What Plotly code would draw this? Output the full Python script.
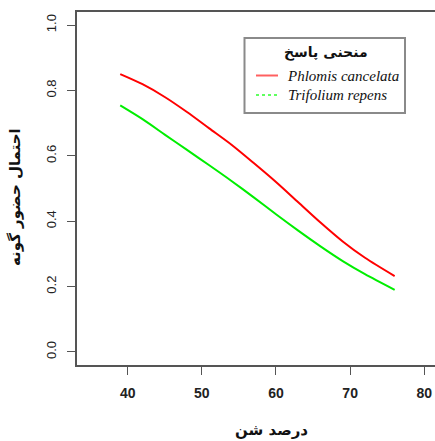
import plotly.graph_objects as go

# ---- data ----
sand = [39, 42, 45, 48, 51, 54, 57, 60, 63, 66, 69, 72, 76]
phlomis = [0.850, 0.819, 0.780, 0.734, 0.684, 0.634, 0.578, 0.520, 0.458, 0.396, 0.338, 0.288, 0.232]
trifolium = [0.754, 0.712, 0.665, 0.618, 0.571, 0.523, 0.473, 0.421, 0.371, 0.323, 0.278, 0.238, 0.190]
x_ticks = [40, 50, 60, 70, 80]
y_ticks = [0.0, 0.2, 0.4, 0.6, 0.8, 1.0]
y_tick_labels = ["0.0", "0.2", "0.4", "0.6", "0.8", "1.0"]
legend_title = "منحنی پاسخ"
series_names = ["Phlomis cancelata", "Trifolium repens"]
x_title = "درصد شن"
y_title = "احتمال حضور گونه"

W, H = 435, 441
L, R, T, B = 77, 0, 12, 76
PW, PH = W - L - R, H - T - B


def px(xp):
    return (xp - L) / PW


def py(yp):
    return (H - B - yp) / PH


fig = go.Figure()
fig.add_trace(go.Scatter(x=sand, y=phlomis, mode="lines", name=series_names[0],
                         line=dict(color="#ff0000", width=2, shape="spline", smoothing=0.8),
                         showlegend=False))
fig.add_trace(go.Scatter(x=sand, y=trifolium, mode="lines", name=series_names[1],
                         line=dict(color="#00ee00", width=2, shape="spline", smoothing=0.8),
                         showlegend=False))

axis_col = "#555555"
fig.update_xaxes(range=[33.17, 81.44], tickvals=x_ticks, ticks="outside", ticklen=8,
                 tickwidth=1.2, tickcolor=axis_col, showline=True, linecolor=axis_col,
                 linewidth=1.5, mirror=True, showgrid=False, zeroline=False,
                 ticklabelstandoff=6,
                 tickfont=dict(family="Liberation Sans", size=14, color="#222222", weight="bold"))
fig.update_yaxes(range=[-0.04, 1.04], tickvals=y_ticks, ticktext=y_tick_labels,
                 ticks="outside", ticklen=8, tickwidth=1.2, tickcolor=axis_col,
                 showline=True, linecolor=axis_col, linewidth=1.5, showgrid=False,
                 zeroline=False, tickangle=-90, ticklabelstandoff=6,
                 tickfont=dict(family="Liberation Sans", size=13, color="#222222"))

serif = "Liberation Serif, DejaVu Serif, serif"
annotations = [
    dict(text=f"<b>{x_title}</b>", x=px(271), y=py(430), xref="paper", yref="paper",
         showarrow=False, xanchor="center", yanchor="middle",
         font=dict(family="DejaVu Sans", size=15, color="#111111")),
    dict(text=f"<b>{y_title}</b>", x=px(15), y=py(197), xref="paper", yref="paper",
         showarrow=False, xanchor="center", yanchor="middle", textangle=-90,
         font=dict(family="DejaVu Sans", size=15, color="#111111")),
    dict(text=f"<b>{legend_title}</b>", x=px(326), y=py(52), xref="paper", yref="paper",
         showarrow=False, xanchor="center", yanchor="middle",
         font=dict(family="DejaVu Sans", size=14, color="#111111")),
    dict(text=series_names[0], x=px(285), y=py(75.5), xref="paper", yref="paper",
         showarrow=False, xanchor="left", yanchor="middle",
         font=dict(family=serif, size=15, color="#111111", style="italic")),
    dict(text=series_names[1], x=px(286), y=py(95), xref="paper", yref="paper",
         showarrow=False, xanchor="left", yanchor="middle",
         font=dict(family=serif, size=15, color="#111111", style="italic")),
]

shapes = [
    dict(type="rect", xref="paper", yref="paper", x0=px(244.5), x1=px(405), y0=py(38), y1=py(113),
         line=dict(color="#8a8a8a", width=2), fillcolor="white"),
    dict(type="line", xref="paper", yref="paper", x0=px(256), x1=px(278), y0=py(75.5), y1=py(75.5),
         line=dict(color="#ff6060", width=2)),
    dict(type="line", xref="paper", yref="paper", x0=px(256), x1=px(278), y0=py(95), y1=py(95),
         line=dict(color="#60ff60", width=2, dash="dot")),
]

fig.update_layout(width=W, height=H, margin=dict(l=L, r=R, t=T, b=B),
                  paper_bgcolor="white", plot_bgcolor="white",
                  annotations=annotations, shapes=shapes, showlegend=False)

fig.write_html("out.html")
